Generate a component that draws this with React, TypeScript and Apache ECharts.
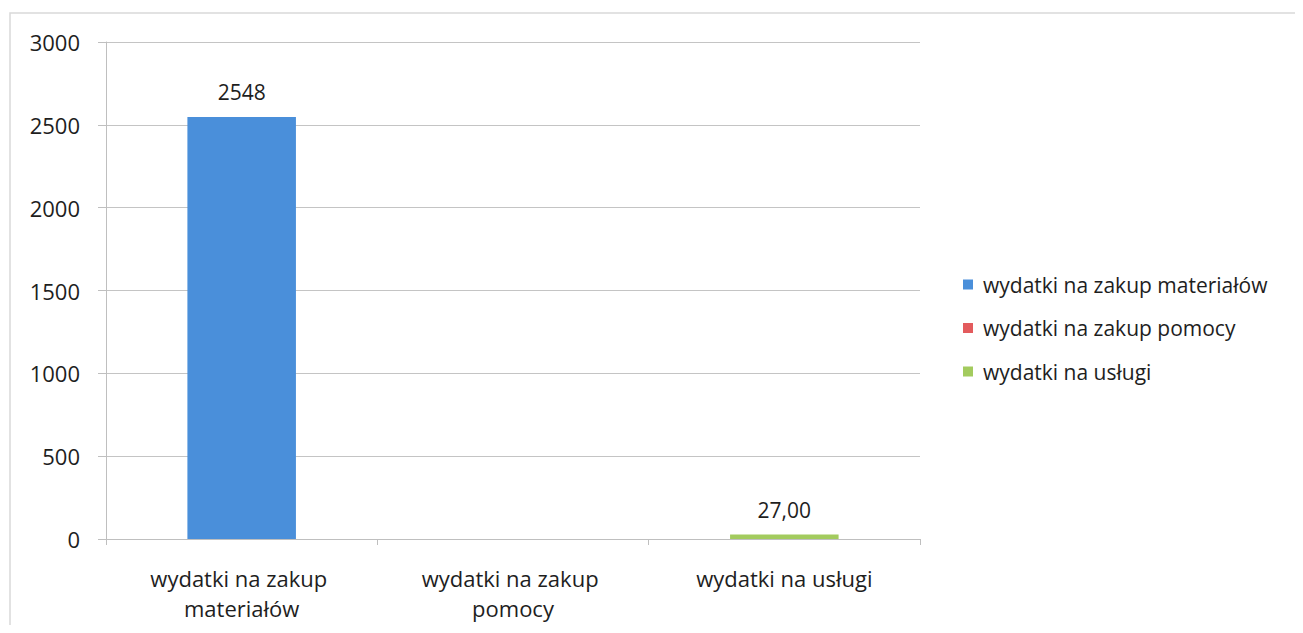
import React, { useEffect, useRef } from "react";
import * as echarts from "echarts";

const categories = ["wydatki na zakup materiałów", "wydatki na zakup pomocy", "wydatki na usługi"];
const seriesNames = ["wydatki na zakup materiałów", "wydatki na zakup pomocy", "wydatki na usługi"];
const seriesValues: (number | null)[] = [2548, null, 27];
const valueLabels = ["2548", "", "27,00"];
const colors = ["#4A8FDA", "#E35B5D", "#A3CB5E"];
const yTicks = { min: 0, max: 3000, interval: 500 };

const FONT = "'Open Sans', 'Noto Sans', sans-serif";
const TEXT = "#1e1e1e";

export default function App() {
  const ref = useRef<HTMLDivElement>(null);
  useEffect(() => {
    if (!ref.current) return;
    const chart = echarts.init(ref.current, undefined, { renderer: "svg" });
    const series = seriesNames.map((name, i) => ({
      name,
      type: "bar",
      stack: "all",
      barWidth: "40%",
      itemStyle: { color: colors[i] },
      data: categories.map((_, j) => (j === i ? seriesValues[i] : null)),
      label: {
        show: valueLabels[i] !== "",
        position: "top",
        distance: 14,
        color: TEXT,
        fontFamily: FONT,
        fontSize: 21,
        formatter: () => valueLabels[i],
      },
    }));
    chart.setOption({
      animation: false,
      textStyle: { fontFamily: FONT },
      graphic: [
        {
          type: "rect",
          shape: { x: 10, y: 13, width: 1288, height: 640 },
          style: { fill: "none", stroke: "#d9d9d9", lineWidth: 1.5 },
          silent: true,
        },
      ],
      grid: { left: 106, right: 383, top: 42, bottom: 94 },
      legend: {
        orient: "vertical",
        left: 958,
        top: 269,
        icon: "rect",
        itemWidth: 10,
        itemHeight: 10,
        itemGap: 22.5,
        textStyle: { fontFamily: FONT, fontSize: 21, color: TEXT, padding: [0, 0, 0, 5] },
        data: seriesNames,
      },
      xAxis: {
        type: "category",
        data: categories,
        axisLine: { lineStyle: { color: "#bfbfbf" } },
        axisTick: { show: true, length: 6, lineStyle: { color: "#bfbfbf" } },
        axisLabel: {
          interval: 0,
          color: TEXT,
          fontSize: 22,
          fontFamily: FONT,
          width: 250,
          overflow: "break",
          lineHeight: 30,
          margin: 24,
        },
      },
      yAxis: {
        type: "value",
        min: yTicks.min,
        max: yTicks.max,
        interval: yTicks.interval,
        axisLine: { show: true, lineStyle: { color: "#bfbfbf" } },
        axisTick: { show: true, length: 8, lineStyle: { color: "#bfbfbf" } },
        splitLine: { lineStyle: { color: "#c4c4c4" } },
        axisLabel: {
          color: TEXT,
          fontSize: 22,
          fontFamily: FONT,
          margin: 26,
          formatter: (v: number) => String(v),
        },
      },
      series,
    });
    return () => chart.dispose();
  }, []);
  return <div ref={ref} style={{ width: 1303, height: 633, margin: -8 }} />;
}
